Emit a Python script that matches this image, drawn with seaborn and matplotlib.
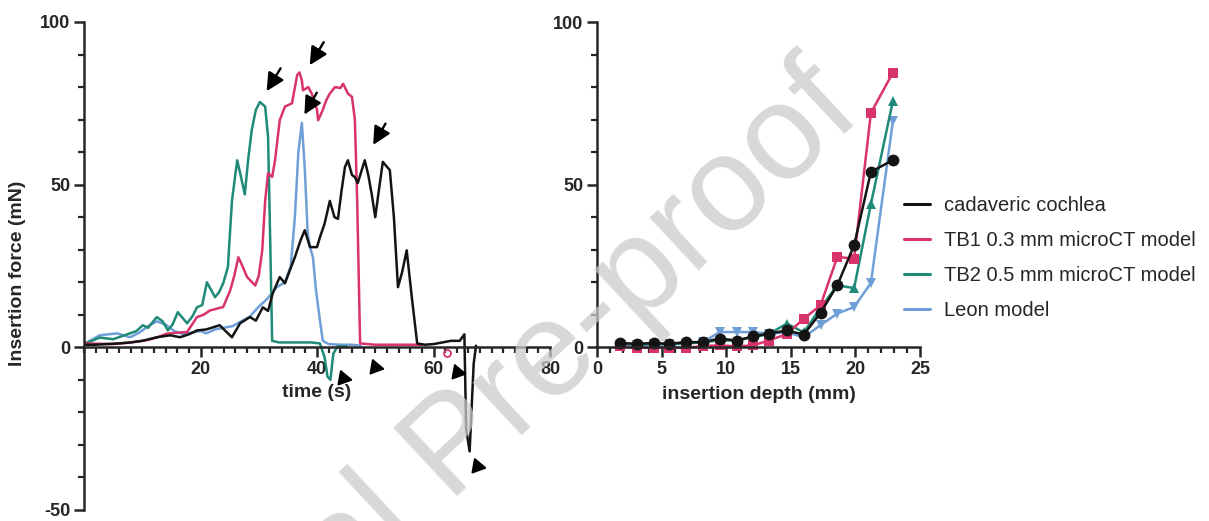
import matplotlib
matplotlib.use("Agg")
import matplotlib.pyplot as plt
from matplotlib.lines import Line2D
from matplotlib.ticker import MultipleLocator
import seaborn as sns

# ---- left panel: insertion force over time ----
cad_t = [0, 2, 4, 6, 8, 10, 12.5, 14.8, 16.5, 18.0, 19.4, 21.0, 23.3, 24.3, 25.4, 26.8,
         28.5, 29.5, 30.7, 31.6, 32.4, 33.6, 34.5, 35.3, 36.2, 37.2, 37.9, 38.8, 40.0, 40.5,
         41.3, 42.2, 43.0, 43.6, 44.2, 44.8, 45.3, 46.0, 46.5, 47.0, 47.6, 48.2, 48.8, 49.4,
         50.0, 50.6, 51.3, 52.0, 52.5, 53.2, 53.9, 54.6, 55.4, 56.3, 57.2, 58.5, 60.0, 61.5,
         63.0, 64.5, 65.3, 65.6, 66.2, 66.9, 67.3]
cad_f = [0.8, 0.8, 1.0, 1.2, 1.5, 2.0, 3.1, 3.7, 3.1, 4.0, 5.2, 5.5, 6.8, 5.0, 3.1, 7.4,
         9.3, 8.2, 12.3, 11.2, 16.6, 21.6, 19.7, 23.5, 27.7, 33.0, 36.0, 30.8, 30.8, 33.8,
         38.0, 45.0, 40.0, 39.5, 48.0, 55.4, 57.5, 53.0, 52.3, 50.5, 54.0, 57.5, 53.0, 47.0,
         40.0, 48.0, 57.0, 55.5, 54.5, 40.0, 18.5, 23.0, 29.8, 15.0, 1.2, 0.8, 1.0, 1.5,
         2.0, 2.0, 4.0, -25.0, -32.0, -5.0, 0.5]

tb1_t = [0, 5, 8, 10.8, 12.5, 14.2, 16, 17.7, 19.4, 20.5, 21.6, 23.0, 23.9, 25.1, 25.8,
         26.5, 27.2, 28.0, 29.4, 30.0, 30.6, 31.1, 31.6, 32.3, 32.8, 33.6, 34.5, 35.7, 36.6,
         37.0, 37.4, 37.6, 38.5, 39.1, 40.0, 40.2, 41.0, 41.6, 42.2, 43.1, 44.0, 44.5, 45.3,
         46.0, 46.5, 46.9, 47.4, 50, 54, 58]
tb1_f = [1.2, 1.0, 1.5, 2.2, 3.0, 4.2, 4.5, 4.7, 9.3, 10.0, 11.3, 12.0, 12.4, 17.5, 22,
         27.7, 25, 21.6, 19.0, 22, 29.8, 45, 53.5, 52.4, 57.5, 69.8, 74, 75, 83.7,
         84.5, 82, 79, 80, 78, 73, 69.8, 73, 76, 78, 80, 79.7, 81, 78,
         77, 70, 45, 1.2, 0.8, 0.8, 0.8]

tb2_t = [0, 2.7, 5, 7.9, 9, 10.1, 11, 12.5, 13.5, 14.4, 15.2, 16.1, 17.7, 18.6, 19.4, 20.3,
         21.1, 22.5, 23.2, 23.9, 24.7, 25.4, 26.3, 27.0, 27.6, 28.2, 28.8, 29.5, 30.2, 31.1,
         31.6, 32.0, 32.3, 33.5, 36, 39, 40.5, 41.3, 41.8, 42.3, 42.8, 43.5, 45]
tb2_f = [1.0, 3.0, 2.5, 4.3, 5, 6.8, 6.0, 9.3, 8.0, 5.2, 7.0, 10.8, 7.4, 9.5, 12.3, 13,
         20.0, 15.4, 17, 19.7, 24.6, 45, 57.5, 52, 47, 58, 66.8, 73, 75.4, 74,
         64.6, 30, 2.0, 1.5, 1.5, 1.5, 1.2, -3, -9, -10, -2, 0.3, 0.3]

leon_t = [0, 2.7, 5.7, 7.9, 9.5, 11, 12.5, 14, 15.5, 17, 18.5, 20, 21, 22.5, 23.9, 25.5,
          27, 28.5, 30, 31.5, 33.1, 34.5, 35.5, 36.2, 36.8, 37.4, 37.9, 38.4, 38.8, 39.3,
          39.8, 40.5, 41.0, 42, 44, 46, 47.5]
leon_f = [1.0, 3.7, 4.3, 3.1, 4.5, 6.5, 8.0, 7.0, 5.0, 4.0, 4.5, 5.0, 4.3, 5.5, 6.0, 6.5,
          8.0, 9.5, 12.5, 15.0, 18.5, 20, 25, 40, 60, 69, 55, 35, 30.8, 27.7,
          18, 8.3, 2.0, 1.0, 0.8, 0.8, 0.5]

# peak arrows (tail -> tip) and small arrowheads
arrow_tail = [(34.0, 86.5), (41.4, 94.5), (40.2, 79.0), (52.0, 69.5)]
arrow_tip = [(31.1, 78.0), (38.5, 86.0), (37.6, 70.8), (49.4, 61.5)]
head_t = [44.5, 50.0, 64.0, 67.4]
head_f = [-9.5, -6.0, -7.6, -36.5]

# ---- right panel: force vs insertion depth ----
depth = [1.8, 3.1, 4.4, 5.6, 6.9, 8.2, 9.5, 10.8, 12.1, 13.3, 14.7, 16.0, 17.3, 18.6, 19.9, 21.2, 22.9]
cad_d = [1.2, 1.0, 1.2, 1.0, 1.5, 1.5, 2.6, 2.0, 3.3, 4.1, 5.1, 3.8, 10.5, 19.0, 31.3, 53.9, 57.5]
tb1_d = [0.2, -0.3, -0.2, -0.2, -0.3, 0.3, 0.5, 0.2, 0.5, 2.0, 4.0, 8.7, 12.8, 27.7, 27.2, 72.0, 84.4]
tb2_d = [1.0, 0.8, 1.0, 0.8, 1.2, 1.5, 2.0, 2.0, 3.0, 4.0, 7.2, 4.5, 12.0, 19.0, 18.1, 44.0, 75.6]
leon_d = [0.5, 0.5, 0.8, 0.8, 1.0, 1.5, 4.6, 4.6, 4.6, 4.1, 4.5, 3.0, 6.7, 10.3, 12.3, 19.7, 69.4]

labels = ["cadaveric cochlea", "TB1 0.3 mm microCT model", "TB2 0.5 mm microCT model", "Leon model"]
colors = ["#141414", "#d8336b", "#1f8a78", "#6f9fd6"]

sns.set_theme(style="ticks")
plt.rcParams["font.family"] = ["Liberation Sans", "DejaVu Sans"]
plt.rcParams["font.weight"] = "bold"
plt.rcParams["axes.labelweight"] = "bold"
plt.rcParams["axes.unicode_minus"] = False

fig = plt.figure(figsize=(12.09, 5.21), dpi=100)
ax1 = fig.add_axes([84 / 1209, 11 / 521, 466 / 1209, 488 / 521])
ax2 = fig.add_axes([597 / 1209, 174 / 521, 323 / 1209, 325 / 521])

# left: blue first so the others sit on top
left_series = [(leon_t, leon_f, colors[3]), (tb2_t, tb2_f, colors[2]),
               (tb1_t, tb1_f, colors[1]), (cad_t, cad_f, colors[0])]
for t, f, c in left_series:
    sns.lineplot(x=t, y=f, color=c, lw=1.8, sort=False, estimator=None, ax=ax1)

for tail, tip in zip(arrow_tail, arrow_tip):
    ax1.annotate("", xy=tip, xytext=tail,
                 arrowprops=dict(arrowstyle="-|>", color="black", lw=1.7, mutation_scale=27))
ax1.plot(head_t, head_f, ls="none", marker=(3, 0, -100), ms=12, color="black", clip_on=False)
ax1.plot([62.3], [-1.6], ls="none", marker="o", ms=5, mfc="none", mec=colors[1], mew=1.3)

ax1.set_xlim(0, 80)
ax1.set_ylim(-50, 100)
ax1.set_xticks([20, 40, 60, 80])
ax1.xaxis.set_minor_locator(MultipleLocator(2))
ax1.set_yticks([-50, 0, 50, 100])
ax1.yaxis.set_minor_locator(MultipleLocator(10))
ax1.set_xlabel("time (s)", fontsize=14, labelpad=4)
ax1.set_ylabel("Insertion force (mN)", fontsize=14, labelpad=6)
ax1.yaxis.set_label_coords(-0.125, 0.485)

# right
right_series = [(cad_d, colors[0], "o", 8.5), (tb1_d, colors[1], "s", 7),
                (tb2_d, colors[2], "^", 7), (leon_d, colors[3], "v", 7)]
for f, c, m, ms in right_series[::-1]:
    sns.lineplot(x=depth, y=f, color=c, lw=1.8, marker=m, markersize=ms,
                 markeredgewidth=0, sort=False, estimator=None, ax=ax2, clip_on=False)

ax2.set_xlim(0, 25)
ax2.set_ylim(0, 100)
ax2.set_xticks([0, 5, 10, 15, 20, 25])
ax2.xaxis.set_minor_locator(MultipleLocator(1))
ax2.set_yticks([0, 50, 100])
ax2.yaxis.set_minor_locator(MultipleLocator(10))
ax2.set_xlabel("insertion depth (mm)", fontsize=14, labelpad=6)
ax2.set_ylabel("")

for ax in (ax1, ax2):
    ax.spines["top"].set_visible(False)
    ax.spines["right"].set_visible(False)
    ax.spines["bottom"].set_position(("data", 0))
    ax.spines["left"].set_linewidth(1.8)
    ax.spines["bottom"].set_linewidth(1.8)
    ax.tick_params(which="major", length=7, width=1.8, labelsize=13, direction="out", pad=3)
    ax.tick_params(which="minor", length=4, width=1.6, direction="out")

handles = [Line2D([], [], color=c, lw=2.2) for c in colors]
fig.legend(handles, labels, loc="upper left", bbox_to_anchor=(886 / 1209, 1 - 178 / 521),
           frameon=False, prop={"size": 14.5, "weight": "normal"}, handlelength=1.3,
           handletextpad=0.7, labelspacing=0.8)

# watermark
fig.text(864 / 1209, 1 - 116 / 521, "Journal Pre-proof", rotation=43, rotation_mode="anchor",
         ha="right", va="baseline", fontsize=98, color="#cbcbcb", alpha=0.75,
         fontweight="normal", zorder=10)

fig.savefig("out.png", dpi=100)
